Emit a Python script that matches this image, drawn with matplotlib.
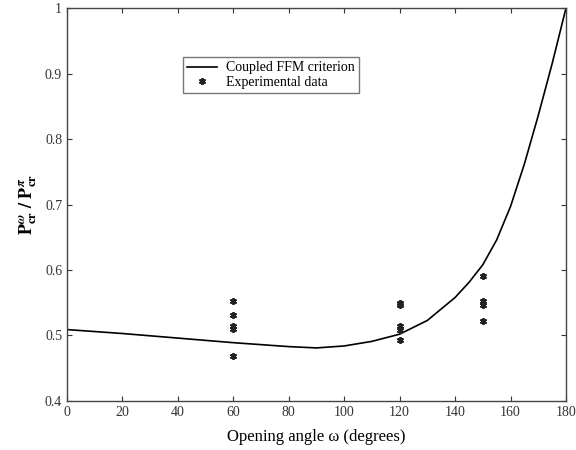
import matplotlib.pyplot as plt
import numpy as np

plt.rcParams["font.family"] = ["Liberation Serif", "DejaVu Serif"]
plt.rcParams["mathtext.fontset"] = "stix"

# coupled FFM criterion curve
curve_angle = [0, 20, 40, 60, 80, 90, 100, 110, 120, 130, 140, 145, 150, 155, 160, 165, 170, 175, 180]
curve_ratio = [0.509, 0.503, 0.496, 0.489, 0.483, 0.481, 0.484, 0.491, 0.502, 0.523, 0.558,
               0.581, 0.608, 0.646, 0.697, 0.762, 0.836, 0.915, 1.000]

# experimental data
exp_angle = [60, 60, 60, 60, 60, 120, 120, 120, 120, 120, 150, 150, 150, 150]
exp_ratio = [0.552, 0.532, 0.515, 0.510, 0.469, 0.549, 0.547, 0.514, 0.509, 0.493,
             0.591, 0.553, 0.547, 0.522]

x_ticks = np.arange(0, 181, 20)
y_ticks = [0.4, 0.5, 0.6, 0.7, 0.8, 0.9, 1.0]
y_ticklabels = ["0.4", "0.5", "0.6", "0.7", "0.8", "0.9", "1"]

fig = plt.figure(figsize=(5.76, 4.5), dpi=100)
ax = fig.add_axes([0.1163, 0.109, 0.8663, 0.873])

ax.plot(curve_angle, curve_ratio, color="black", lw=1.2, label="Coupled FFM criterion")
ax.plot(exp_angle, exp_ratio, ls="none", marker=(6, 2, 0), ms=5, mew=1.3, color="#222222",
        label="Experimental data")

ax.set_xlim(0, 180)
ax.set_ylim(0.4, 1.0)
ax.set_xticks(x_ticks)
ax.set_yticks(y_ticks)
ax.set_yticklabels(y_ticklabels)
ax.tick_params(direction="in", top=True, right=True, length=3.5, labelsize=10, colors="#333333")
for sp in ax.spines.values():
    sp.set_color("#444444")
    sp.set_linewidth(1.0)

ax.set_xlabel("Opening angle \u03c9 (degrees)", fontsize=12, labelpad=7)
ax.set_ylabel(r"$\mathbf{P}^{\boldsymbol{\omega}}_{\mathbf{cr}}\ \mathbf{/}\ \mathbf{P}^{\boldsymbol{\pi}}_{\mathbf{cr}}$",
              fontsize=13, labelpad=4)

leg = ax.legend(loc="upper left", bbox_to_anchor=(0.232, 0.875), fontsize=10, frameon=True,
                fancybox=False, edgecolor="#555555", handlelength=2.2, borderpad=0.3,
                labelspacing=0.1, handletextpad=0.6, borderaxespad=0)
leg.get_frame().set_linewidth(1.0)

fig.savefig("out.png", dpi=100, facecolor="white")
